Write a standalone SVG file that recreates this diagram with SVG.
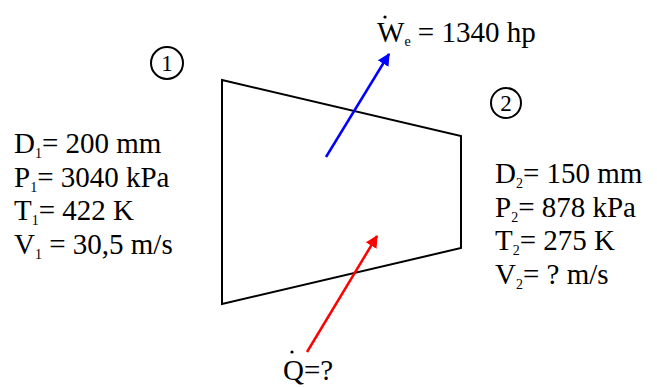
<svg xmlns="http://www.w3.org/2000/svg" width="657" height="387" viewBox="0 0 657 387">
<style>
text{font-family:"Liberation Serif","Times New Roman",serif;font-size:29px;fill:#000}
.sub{font-size:14px}
.num{font-size:23px}
</style>
<defs>
<marker id="ab" viewBox="0 0 10 10" refX="9" refY="5" markerWidth="5" markerHeight="5" orient="auto"><path d="M0,0 L10,5 L0,10 Z" fill="#0000ff"/></marker>
<marker id="ar" viewBox="0 0 10 10" refX="9" refY="5" markerWidth="5" markerHeight="5" orient="auto"><path d="M0,0 L10,5 L0,10 Z" fill="#ff0000"/></marker>
</defs>
<rect width="657" height="387" fill="#fff"/>
<g id="volume"><polygon points="222,80 461,136 461,248 222,304" fill="none" stroke="#000" stroke-width="2"/></g>
<g id="connectors">
<line x1="326" y1="157" x2="389" y2="54" stroke="#0000ff" stroke-width="2.5" marker-end="url(#ab)"/>
<line x1="307" y1="352" x2="377" y2="236" stroke="#ff0000" stroke-width="2.5" marker-end="url(#ar)"/>
</g>
<g id="state1"><circle cx="167" cy="63" r="16" fill="none" stroke="#000" stroke-width="2"/><text x="167" y="71" text-anchor="middle" class="num">1</text></g>
<g id="state2"><circle cx="506" cy="103" r="15" fill="none" stroke="#000" stroke-width="2"/><text x="506" y="111" text-anchor="middle" class="num">2</text></g>
<g id="inlet">
<text x="14" y="153">D<tspan class="sub" dy="5">1</tspan><tspan dy="-5">= 200 mm</tspan></text>
<text x="14" y="187">P<tspan class="sub" dy="5">1</tspan><tspan dy="-5">= 3040 kPa</tspan></text>
<text x="14" y="220">T<tspan class="sub" dy="5">1</tspan><tspan dy="-5">= 422 K</tspan></text>
<text x="14" y="254">V<tspan class="sub" dy="5">1</tspan><tspan dy="-5"> = 30,5 m/s</tspan></text>
</g>
<g id="outlet">
<text x="495" y="183">D<tspan class="sub" dy="5">2</tspan><tspan dy="-5">= 150 mm</tspan></text>
<text x="495" y="217">P<tspan class="sub" dy="5">2</tspan><tspan dy="-5">= 878 kPa</tspan></text>
<text x="495" y="250">T<tspan class="sub" dy="5">2</tspan><tspan dy="-5">= 275 K</tspan></text>
<text x="495" y="284">V<tspan class="sub" dy="5">2</tspan><tspan dy="-5">= ? m/s</tspan></text>
</g>
<g id="work">
<circle cx="385" cy="17" r="1.6" fill="#000"/>
<text x="377" y="42">W<tspan class="sub" dy="4">e</tspan><tspan dy="-4"> = 1340 hp</tspan></text>
</g>
<g id="heat">
<circle cx="292" cy="352" r="1.6" fill="#000"/>
<text x="283" y="380">Q=?</text>
</g>
</svg>
